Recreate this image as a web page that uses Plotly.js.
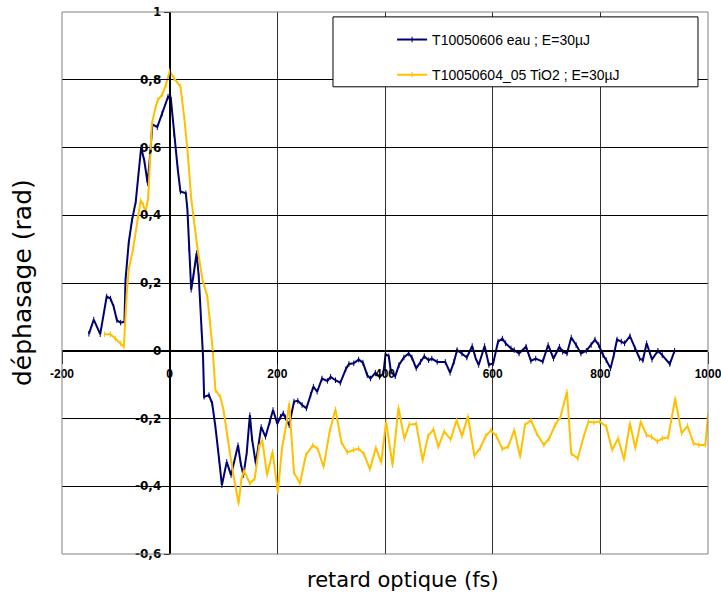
<!DOCTYPE html>
<html>
<head>
<meta charset="utf-8">
<script src="https://cdn.plot.ly/plotly-3.0.1.min.js"></script>
<style>html,body{margin:0;padding:0;background:#fff;}#chart{width:721px;height:594px;}</style>
</head>
<body>
<div id="chart"></div>
<script>
// ---- data ----
var seriesNames = ["T10050606 eau ; E=30µJ", "T10050604_05 TiO2 ; E=30µJ"];

var eauX = [-150,-141,-129,-117,-110,-104,-98,-91,-84,-82,-76,-70,-63,-58,-53,-47,-41,-37,-32,-23,-14,-3,2,8,15,20,30,33,36,40,44,50,54,59,62,64,73,79,85,92,97,106,114,127,132,137,143,149,153,160,166,170,178,186,192,200,206,211,215,222,231,238,246,254,262,267,274,283,293,299,308,317,327,333,342,351,359,367,373,382,390,397,401,407,411,419,426,435,444,450,458,466,473,481,487,497,512,521,528,534,543,552,562,568,574,585,593,601,610,618,624,634,640,649,662,671,680,693,703,713,724,730,738,746,755,764,774,783,790,797,805,811,819,825,831,839,845,855,864,873,879,886,896,907,915,929,938];
var eauY = [0.05,0.092,0.049,0.16,0.154,0.13,0.09,0.083,0.086,0.21,0.32,0.385,0.44,0.52,0.6,0.56,0.495,0.565,0.668,0.66,0.70,0.75,0.747,0.64,0.536,0.47,0.465,0.416,0.30,0.18,0.22,0.288,0.22,0.06,-0.018,-0.136,-0.131,-0.156,-0.225,-0.323,-0.397,-0.328,-0.367,-0.279,-0.333,-0.367,-0.303,-0.19,-0.26,-0.333,-0.274,-0.225,-0.254,-0.21,-0.175,-0.215,-0.195,-0.185,-0.197,-0.22,-0.15,-0.148,-0.16,-0.17,-0.13,-0.106,-0.121,-0.082,-0.089,-0.077,-0.087,-0.095,-0.055,-0.039,-0.037,-0.026,-0.035,-0.072,-0.082,-0.065,-0.077,-0.067,-0.01,-0.016,-0.062,-0.075,-0.042,-0.02,-0.008,-0.02,-0.052,-0.033,-0.016,-0.028,-0.023,-0.033,-0.033,-0.065,-0.033,0.002,-0.008,-0.02,0.014,-0.02,-0.042,0.014,-0.042,-0.037,0.027,0.036,0.022,0.007,0.002,-0.008,0.012,-0.03,-0.023,-0.032,0.017,-0.023,0.012,-0.003,-0.008,0.039,0.017,-0.008,0,0.017,0.033,0.017,-0.013,-0.028,-0.052,-0.013,0.033,0.027,0.022,0.043,0.007,-0.023,-0.028,0.022,-0.026,0,-0.013,-0.039,0];

var tio2X = [-121,-110,-101,-91,-85,-80,-76,-68,-60,-54,-49,-45,-40,-33,-26,-22,-14,-7,0,8,20,27,33,40,51,61,70,75,80,85,94,100,106,113,118,123,128,133,138,149,158,166,172,181,191,201,209,217,222,231,242,253,266,275,286,297,308,319,330,342,351,361,372,383,393,402,414,425,436,445,458,470,480,490,499,510,522,533,543,554,566,577,587,597,607,618,629,640,651,660,671,682,695,705,716,726,738,746,758,769,778,788,799,811,822,833,844,855,865,875,886,895,906,915,926,939,951,962,973,983,995,1000];
var tio2Y = [0.049,0.049,0.036,0.022,0.012,0.164,0.24,0.30,0.39,0.444,0.43,0.408,0.45,0.67,0.72,0.74,0.756,0.785,0.825,0.805,0.78,0.69,0.594,0.45,0.31,0.209,0.16,0.09,0.002,-0.116,-0.136,-0.175,-0.244,-0.313,-0.363,-0.402,-0.451,-0.382,-0.353,-0.392,-0.377,-0.284,-0.264,-0.367,-0.298,-0.417,-0.284,-0.215,-0.156,-0.36,-0.392,-0.308,-0.279,-0.29,-0.343,-0.24,-0.173,-0.27,-0.30,-0.293,-0.289,-0.305,-0.35,-0.286,-0.33,-0.21,-0.338,-0.167,-0.26,-0.218,-0.216,-0.324,-0.252,-0.232,-0.284,-0.238,-0.262,-0.205,-0.252,-0.193,-0.31,-0.287,-0.252,-0.235,-0.252,-0.29,-0.283,-0.234,-0.313,-0.219,-0.205,-0.244,-0.278,-0.259,-0.219,-0.195,-0.121,-0.303,-0.318,-0.254,-0.209,-0.212,-0.209,-0.224,-0.293,-0.259,-0.321,-0.214,-0.288,-0.209,-0.249,-0.254,-0.268,-0.259,-0.256,-0.141,-0.244,-0.222,-0.273,-0.278,-0.278,-0.19];

var xTickVals = [-200,0,200,400,600,800,1000];
var xTickText = ["-200","0","200","400","600","800","1000"];
var yTickVals = [-0.6,-0.4,-0.2,0,0.2,0.4,0.6,0.8,1];
var yTickText = ["-0,6","-0,4","-0,2","0","0,2","0,4","0,6","0,8","1"];

var xTitle = "retard optique (fs)";
var yTitle = "déphasage (rad)";

// ---- chart ----
var blue = "#000070", yellow = "#FFC000";
var xTickFont = {family: "Liberation Sans, Arial, sans-serif", size: 12, color: "#000", weight: "bold"};
var yTickFont = {family: "DejaVu Sans", size: 12, color: "#000", weight: "bold"};

var traces = [
  {x: eauX, y: eauY, name: seriesNames[0], type: "scatter", mode: "lines+markers",
   legendgroup: "a",
   line: {color: blue, width: 2}, marker: {symbol: "line-ns", size: 4, color: blue, line: {color: blue, width: 1}}},
  {x: tio2X, y: tio2Y, name: seriesNames[1], type: "scatter", mode: "lines+markers",
   legendgroup: "b",
   line: {color: yellow, width: 2}, marker: {symbol: "line-ns", size: 4, color: yellow, line: {color: yellow, width: 1}}}
];

var layout = {
  width: 721, height: 594,
  margin: {l: 62, r: 13, t: 12, b: 40},
  paper_bgcolor: "#fff", plot_bgcolor: "#fff",
  showlegend: true,
  xaxis: {
    range: [-200, 1000], tickvals: xTickVals, ticktext: xTickText,
    anchor: "free", position: 0.375,
    showgrid: true, gridcolor: "#303030", gridwidth: 1,
    zeroline: true, zerolinecolor: "#000", zerolinewidth: 1,
    showline: true, linecolor: "#000", linewidth: 1,
    ticks: "outside", ticklen: 12, tickcolor: "#000",
    ticklabeloverflow: "allow",
    tickfont: xTickFont, fixedrange: true
  },
  yaxis: {
    range: [-0.6, 1], tickvals: yTickVals, ticktext: yTickText,
    anchor: "free", position: 1/6,
    showgrid: true, gridcolor: "#000", gridwidth: 1,
    zeroline: true, zerolinecolor: "#000", zerolinewidth: 1,
    showline: true, linecolor: "#000", linewidth: 1,
    ticks: "outside", ticklen: 6, tickcolor: "#000",
    ticklabeloverflow: "allow",
    tickfont: yTickFont, fixedrange: true
  },
  legend: {
    x: 0.511, y: 0.978, xanchor: "left", yanchor: "top",
    bgcolor: "rgba(0,0,0,0)", borderwidth: 0,
    traceorder: "grouped", tracegroupgap: 14,
    font: {family: "Liberation Sans, Arial, sans-serif", size: 14, color: "#000"}
  },
  shapes: [
    {type: "rect", xref: "paper", yref: "paper", x0: 0, x1: 1, y0: 0, y1: 1,
     line: {color: "#808080", width: 1}, fillcolor: "rgba(0,0,0,0)", layer: "above"},
    {type: "rect", xref: "paper", yref: "paper", x0: 0.4195, x1: 0.9845, y0: 0.862, y1: 0.991,
     line: {color: "#000", width: 1}, fillcolor: "#fff", layer: "above"}
  ],
  annotations: [
    {text: xTitle, xref: "paper", yref: "paper", x: 0.528, y: -0.048, xanchor: "center", yanchor: "middle",
     showarrow: false, font: {family: "DejaVu Sans", size: 21, color: "#000"}},
    {text: yTitle, xref: "paper", yref: "paper", x: -0.0619, y: 0.5, xanchor: "center", yanchor: "middle",
     textangle: -90, showarrow: false, font: {family: "DejaVu Sans", size: 25, color: "#000"}}
  ]
};

Plotly.newPlot("chart", traces, layout, {displayModeBar: false, staticPlot: true});
</script>
</body>
</html>
